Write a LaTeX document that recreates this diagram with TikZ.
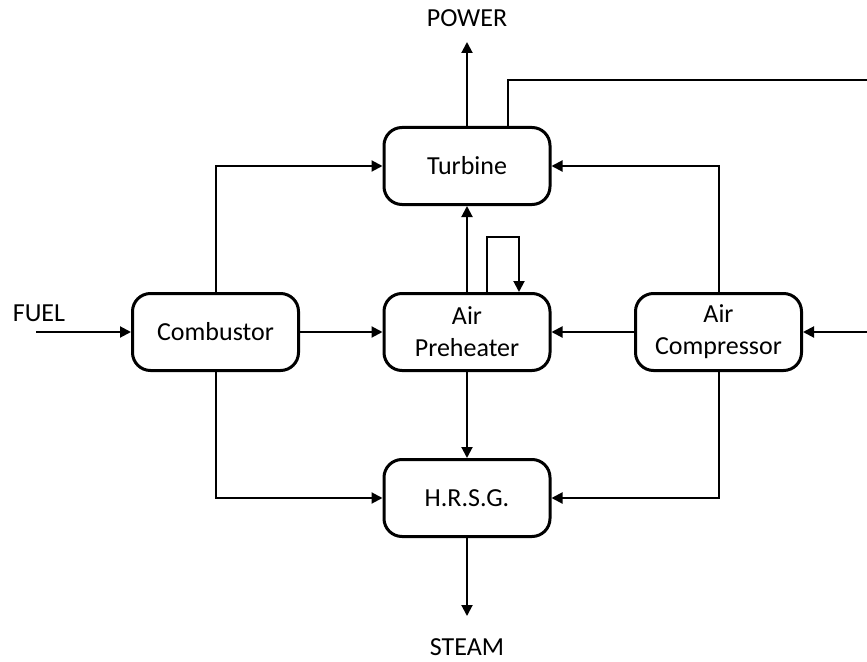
\documentclass[tikz,border=0pt]{standalone}
\usepackage{fontspec}
\setmainfont{Carlito}
\usetikzlibrary{arrows.meta}
\begin{document}
\begin{tikzpicture}[x=1bp,y=-1bp,
 block/.style={draw,line width=3bp,rounded corners=18bp,minimum width=166bp,minimum height=77bp,align=center,inner sep=0pt,font=\fontsize{26bp}{32bp}\selectfont},
 lbl/.style={font=\fontsize{26bp}{32bp}\selectfont,inner sep=0pt},
 flow/.style={line width=2bp,-{Triangle[length=11bp,width=11bp]}},
 plain/.style={line width=2bp}]
\useasboundingbox (0,0) rectangle (867,662);
\node[block] (turb) at (467,166) {Turbine};
\node[block] (preh) at (467,332) {Air\\Preheater};
\node[block] (comb) at (215.5,332) {Combustor};
\node[block] (comp) at (718.5,332) {Air\\Compressor};
\node[block] (hrsg) at (467,498) {H.R.S.G.};
\node[lbl] (power) at (467,18) {POWER};
\node[lbl] (steam) at (467,647) {STEAM};
\node[lbl] (fuel) at (39,313) {FUEL};
\coordinate (fuelin) at (36,332);
\coordinate (rin) at (867,332);
\coordinate (powtip) at (467,42);
\coordinate (steamtip) at (467,616);
\coordinate (topright) at (867,80);
\draw[flow] (fuelin) -- (comb);
\draw[flow] (comb) -- (preh);
\draw[flow] (comp) -- (preh);
\draw[flow] (rin) -- (comp);
\draw[flow] (preh) -- (turb);
\draw[flow] (preh) -- (hrsg);
\draw[flow] (turb) -- (powtip);
\draw[flow] (hrsg) -- (steamtip);
\draw[flow] (comb.north) |- (turb.west);
\draw[flow] (comb.south) |- (hrsg.west);
\draw[flow] (comp.north) |- (turb.east);
\draw[flow] (comp.south) |- (hrsg.east);
\draw[flow] ([xshift=20bp]preh.north) -- ++(0,-55) -| ([xshift=52bp]preh.north);
\draw[plain] ([xshift=41bp]turb.north) |- (topright);
\end{tikzpicture}
\end{document}
